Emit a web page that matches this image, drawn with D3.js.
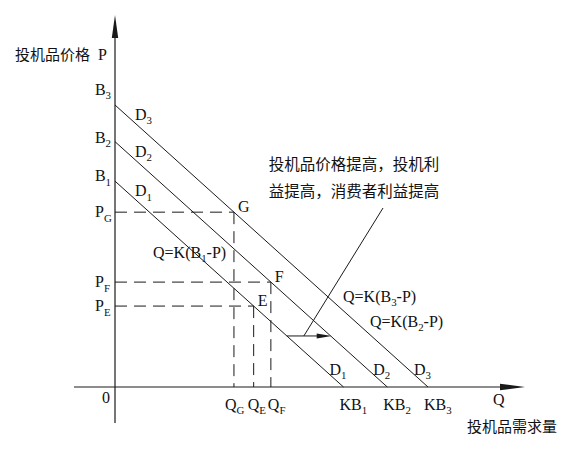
<!DOCTYPE html>
<html><head><meta charset="utf-8">
<script src="https://cdn.jsdelivr.net/npm/d3@7"></script>
<style>
body{margin:0;background:#fff;}
text{font-family:"Liberation Serif","Noto Sans CJK SC",serif;fill:#111;}
.cjk{font-family:"Noto Sans CJK SC",sans-serif;}
</style></head>
<body><svg id="c" width="573" height="454"></svg>
<script>
// ---- data ----
const K = 1;
const curveNames = ["1", "2", "3"];          // D1, D2, D3 subscripts
const interceptB = [7.3, 8.7, 10];           // B1, B2, B3 (price intercepts)
const pointNames = ["E", "F", "G"];
const pointPrices = [2.87, 3.72, 6.2];       // P_E, P_F, P_G
const pointCurve = [0, 1, 2];                // E on D1, F on D2, G on D3
const shiftPrice = 1.81;                     // price level of the shift arrow
const yAxisLabel = "投机品价格";
const xAxisLabel = "投机品需求量";
const noteLines = ["投机品价格提高，投机利", "益提高，消费者利益提高"];
const formulaSubs = ["1", "3", "2"];          // Q=K(B?-P) labels

// ---- scales ----
const x = d3.scaleLinear().domain([0, 10]).range([115, 428]);
const y = d3.scaleLinear().domain([0, 10]).range([387, 105]);
const svg = d3.select("#c");
const ink = "#1a1a1a";

// axes
svg.append("line").attr("x1", 74).attr("x2", 505).attr("y1", y(0)).attr("y2", y(0)).attr("stroke", ink).attr("stroke-width", 1.2);
svg.append("line").attr("x1", x(0)).attr("x2", x(0)).attr("y1", 423).attr("y2", 35).attr("stroke", ink).attr("stroke-width", 1.2);
svg.append("path").attr("d", `M${x(0)},15 L${x(0)-3.2},38 L${x(0)+3.2},38 Z`).attr("fill", ink);
svg.append("path").attr("d", `M525,${y(0)} L500,${y(0)-3.2} L500,${y(0)+3.2} Z`).attr("fill", ink);

// helper for subscripted text
function sub(g, main, s, xx, yy, size, anchor, after) {
  const t = g.append("text").attr("x", xx).attr("y", yy).attr("font-size", size).attr("text-anchor", anchor || "start");
  t.append("tspan").text(main);
  t.append("tspan").attr("font-size", size * 0.68).attr("dy", size * 0.28).text(s);
  if (after) t.append("tspan").attr("dy", -size * 0.28).text(after);
  return t;
}

// demand curves
interceptB.forEach((b, i) => {
  svg.append("line")
    .attr("x1", x(0)).attr("y1", y(b))
    .attr("x2", x(K * b)).attr("y2", y(0))
    .attr("stroke", ink).attr("stroke-width", 1);
  // B labels
  const bOff = [0, 1, -10][i];
  sub(svg, "B", curveNames[i], 111, y(b) + bOff, 16, "end");
  // D labels near top
  sub(svg, "D", curveNames[i], x(0) + 20, y(b) + 15, 16);
  // D labels near bottom
  sub(svg, "D", curveNames[i], x(K * b) - 14, y(0) - 12, 16);
  // KB labels
  sub(svg, "KB", curveNames[i], x(K * b) - 4, y(0) + 23, 16);
});

// equilibrium points with dashed guides
const qOff = {E: -6, F: -3, G: -9};
pointNames.forEach((n, i) => {
  const p = pointPrices[i];
  const q = K * (interceptB[pointCurve[i]] - p);
  svg.append("line").attr("x1", x(0)).attr("x2", x(q)).attr("y1", y(p)).attr("y2", y(p))
    .attr("stroke", ink).attr("stroke-width", 1).attr("stroke-dasharray", "12,7");
  svg.append("line").attr("x1", x(q)).attr("x2", x(q)).attr("y1", y(p)).attr("y2", y(0))
    .attr("stroke", ink).attr("stroke-width", 1).attr("stroke-dasharray", "12,7");
  svg.append("text").attr("x", x(q) + 4).attr("y", y(p)).attr("font-size", 16).text(n);
  sub(svg, "P", n, 95, y(p) + 5, 16);
  sub(svg, "Q", n, x(q) + qOff[n], y(0) + 23, 16);
});

// origin, axis labels
svg.append("text").attr("x", 102).attr("y", 403).attr("font-size", 16).text("0");
svg.append("text").attr("x", 493).attr("y", 405).attr("font-size", 16).text("Q");
svg.append("text").attr("class", "cjk").attr("x", 467).attr("y", 432).attr("font-size", 15).text(xAxisLabel);
svg.append("text").attr("class", "cjk").attr("x", 15).attr("y", 60).attr("font-size", 15).text(yAxisLabel);
svg.append("text").attr("x", 98).attr("y", 60).attr("font-size", 16).text("P");

// formula labels
const fPos = [[153, 258], [343, 302], [370, 327]];
formulaSubs.forEach((s, i) => {
  sub(svg, "Q=K(B", s, fPos[i][0], fPos[i][1], 16, "start", "-P)");
});

// shift arrow and annotation
const ax1 = x(K * (interceptB[0] - shiftPrice));
const ax2 = x(K * (interceptB[1] - shiftPrice));
const ay = y(shiftPrice);
svg.append("line").attr("x1", ax1).attr("x2", ax2 - 12).attr("y1", ay).attr("y2", ay).attr("stroke", ink).attr("stroke-width", 1);
svg.append("path").attr("d", `M${ax2+1},${ay} L${ax2-14},${ay-2.5} L${ax2-14},${ay+2.5} Z`).attr("fill", ink);
svg.append("line").attr("x1", ax1 + 17).attr("y1", ay).attr("x2", 383).attr("y2", 208).attr("stroke", ink).attr("stroke-width", 1);
noteLines.forEach((t, i) => {
  svg.append("text").attr("class", "cjk").attr("x", 354).attr("y", 170 + i * 27)
    .attr("text-anchor", "middle").attr("font-size", 15.5).text(t);
});
</script></body></html>
